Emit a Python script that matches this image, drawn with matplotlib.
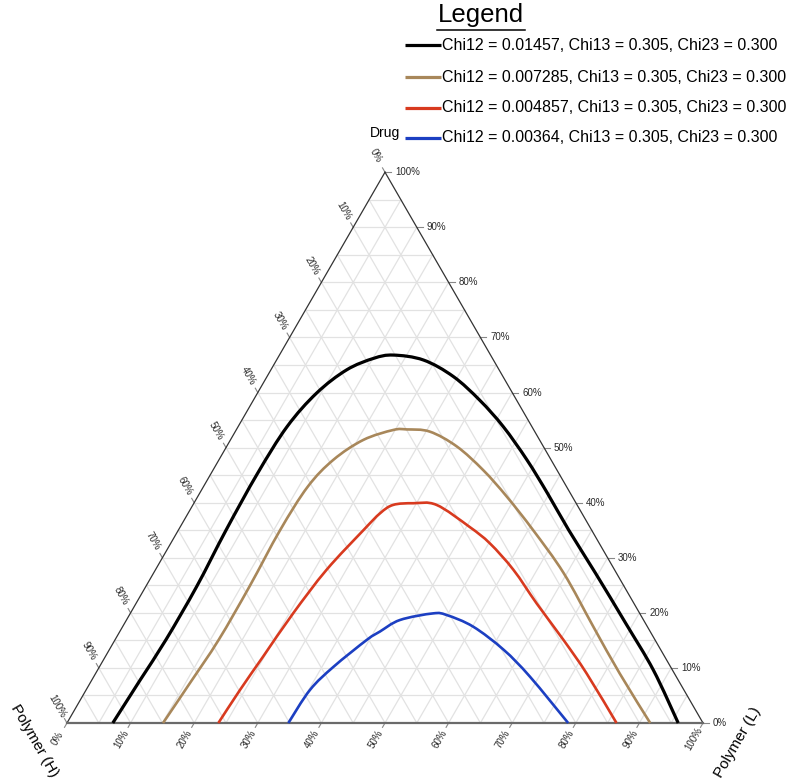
import numpy as np
import matplotlib
matplotlib.use("Agg")
import matplotlib.pyplot as plt
from matplotlib.path import Path
from matplotlib.patches import PathPatch

plt.rcParams['font.family'] = ['Liberation Sans', 'DejaVu Sans']

# ---- binodal curves: drug (%) and polymer (L) (%) along each curve ----
black_drug = [0, 7.8, 15.1, 24.8, 35.0, 45.3, 53.8, 59.9, 64.1, 66.2, 66.8, 65.9,
              62.9, 58.6, 53.8, 47.8, 41.7, 35.0, 27.2, 18.1, 9.6, 0]
black_polyL = [7.2, 7.6, 8.0, 8.0, 7.5, 7.3, 7.7, 9.3, 11.9, 15.1, 17.9, 23.1,
               29.3, 35.6, 41.7, 48.4, 54.7, 61.4, 69.5, 78.8, 87.4, 96.1]

tan_drug = [0, 7.2, 15.1, 24.8, 35.0, 42.9, 47.8, 51.4, 53.2, 53.3, 52.9, 50.2,
            45.9, 41.1, 35.0, 27.2, 17.5, 9.0, 0]
tan_polyL = [15.1, 15.7, 16.3, 16.3, 16.0, 16.4, 18.0, 20.9, 24.7, 26.8, 30.6, 36.2,
             42.5, 48.6, 55.8, 64.5, 74.0, 82.4, 91.7]

red_drug = [0, 6.0, 12.0, 19.9, 27.8, 35.0, 38.1, 39.6, 39.9, 39.6, 35.6, 32.6,
            27.8, 21.7, 15.1, 9.0, 0]
red_polyL = [23.8, 24.2, 24.8, 25.6, 26.9, 29.1, 30.2, 31.5, 34.5, 38.3, 45.5, 50.2,
             56.3, 63.0, 70.5, 77.2, 86.4]

blue_drug = [0, 6.0, 10.2, 15.1, 16.6, 18.7, 19.9, 19.6, 17.5, 13.3, 8.4, 0]
blue_polyL = [34.8, 35.2, 36.8, 39.6, 40.9, 43.0, 47.6, 49.9, 55.1, 62.0, 68.6, 78.8]

chi12 = ["0.01457", "0.007285", "0.004857", "0.00364"]
chi13 = [0.305, 0.305, 0.305, 0.305]
chi23 = [0.300, 0.300, 0.300, 0.300]
curve_colors = ["#000000", "#a8875a", "#d83a1f", "#1c3fc2"]
curve_widths = [2.3, 1.9, 1.9, 1.9]

ticks = list(range(0, 101, 10))
tick_labels = [f"{t}%" for t in ticks]
grid_steps = list(range(5, 100, 5))

# ---- figure ----
W, H = 787, 781
SIDE = 636.0  # triangle side length in pixels
fig = plt.figure(figsize=(W / 100, H / 100), dpi=100)
ax = fig.add_axes([0, 0, 1, 1])
ax.set_xlim(-67 / SIDE, (W - 67) / SIDE)
ax.set_ylim(-(H - 723) / SIDE, 723 / SIDE)
ax.axis('off')

S3 = np.sqrt(3) / 2


def tern(drug, polyL):
    """Ternary composition (percent) -> cartesian position in the triangle."""
    d = np.asarray(drug, dtype=float) / 100.0
    l = np.asarray(polyL, dtype=float) / 100.0
    return l + d / 2.0, d * S3


def smooth_path(x, y):
    """Cubic Bezier path passing through every point (Catmull-Rom tangents)."""
    pts = np.column_stack([x, y])
    n = len(pts)
    verts = [pts[0]]
    codes = [Path.MOVETO]
    for i in range(n - 1):
        p0 = pts[i - 1] if i > 0 else pts[i]
        p1, p2 = pts[i], pts[i + 1]
        p3 = pts[i + 2] if i + 2 < n else pts[i + 1]
        verts += [p1 + (p2 - p0) / 6.0, p2 - (p3 - p1) / 6.0, p2]
        codes += [Path.CURVE4] * 3
    return Path(verts, codes)


px = 1.0 / SIDE  # one pixel in data units

# grid lines every 5 %
gcol = "#e2e2e2"
for k in grid_steps:
    x, y = tern([k, k], [0, 100 - k])          # constant drug
    ax.plot(x, y, color=gcol, lw=0.9, zorder=1)
    x, y = tern([0, 100 - k], [k, k])          # constant polymer (L)
    ax.plot(x, y, color=gcol, lw=0.9, zorder=1)
    x, y = tern([0, 100 - k], [100 - k, 0])    # constant polymer (H)
    ax.plot(x, y, color=gcol, lw=0.9, zorder=1)

# triangle edges
x, y = tern([0, 100], [0, 0])
ax.plot(x, y, color="#333333", lw=0.9, zorder=3)
x, y = tern([100, 0], [0, 100])
ax.plot(x, y, color="#333333", lw=0.9, zorder=3)
x, y = tern([0, 0], [0, 100])
ax.plot(x, y, color="#6a6a6a", lw=1.6, zorder=3)

tfs = 7
tcol = "#888888"
lcol = "#2a2a2a"
for t, lab in zip(ticks, tick_labels):
    # right edge: drug
    x0, y0 = tern(t, 100 - t)
    ax.plot([x0, x0 + 6 * px], [y0, y0], color=tcol, lw=0.8)
    ax.text(x0 + 10 * px, y0, lab, fontsize=tfs, ha='left', va='center', color=lcol)
    # bottom edge: polymer (L)
    x0, y0 = tern(0, t)
    dx, dy = -0.5, -S3
    ax.plot([x0, x0 + 5 * px * dx], [y0, y0 + 5 * px * dy], color=tcol, lw=0.8)
    ax.text(x0 + 18 * px * dx, y0 + 18 * px * dy, lab, fontsize=tfs, rotation=60,
            rotation_mode='anchor', ha='center', va='center', color=lcol)
    # left edge: polymer (H)
    x0, y0 = tern(100 - t, 0)
    dx, dy = -0.5, S3
    ax.plot([x0, x0 + 5 * px * dx], [y0, y0 + 5 * px * dy], color=tcol, lw=0.8)
    ax.text(x0 + 19 * px * dx, y0 + 19 * px * dy, lab, fontsize=tfs, rotation=-60,
            rotation_mode='anchor', ha='center', va='center', color=lcol)

# binodal curves
curves = [(black_drug, black_polyL), (tan_drug, tan_polyL),
          (red_drug, red_polyL), (blue_drug, blue_polyL)]
for (dr, pl), c, lw in zip(curves, curve_colors, curve_widths):
    x, y = tern(dr, pl)
    ax.add_patch(PathPatch(smooth_path(x, y), fill=False, edgecolor=c, lw=lw,
                           capstyle='butt', joinstyle='round', zorder=5))

# ---- overlay in pixel coordinates for titles and legend ----
ov = fig.add_axes([0, 0, 1, 1])
ov.set_xlim(0, W)
ov.set_ylim(H, 0)
ov.axis('off')
ov.patch.set_visible(False)

ov.text(385, 133, "Drug", fontsize=10, ha='center', va='center')
ov.text(34, 741, "Polymer (H)", fontsize=11, rotation=-60, rotation_mode='anchor',
        ha='center', va='center')
ov.text(738, 742, "Polymer (L)", fontsize=11, rotation=60, rotation_mode='anchor',
        ha='center', va='center')

ov.text(481, 15, "Legend", fontsize=18.5, ha='center', va='center')
ov.plot([437, 525], [29.5, 29.5], color="black", lw=1.1)

row_y = [45, 77, 108, 138]
for i, yy in enumerate(row_y):
    ov.plot([405, 441], [yy, yy], color=curve_colors[i], lw=2.3,
            solid_capstyle='butt')
    label = f"Chi12 = {chi12[i]}, Chi13 = {chi13[i]:.3f}, Chi23 = {chi23[i]:.3f}"
    ov.text(442, yy, label, fontsize=11.5, ha='left', va='center')

fig.savefig("out.png", dpi=100, facecolor="white")
